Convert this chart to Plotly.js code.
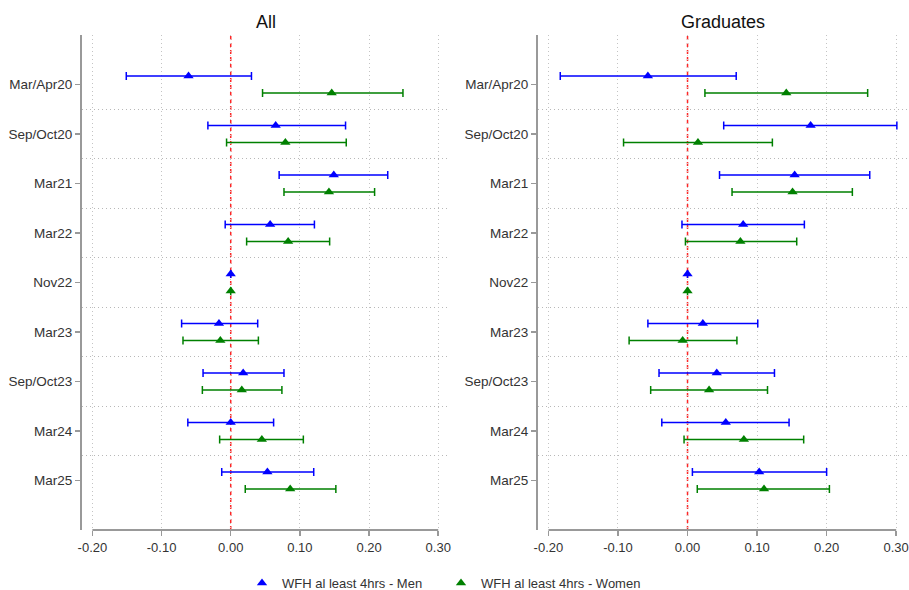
<!DOCTYPE html>
<html>
<head>
<meta charset="utf-8">
<script src="https://cdn.plot.ly/plotly-3.0.1.min.js"></script>
<style>html,body{margin:0;padding:0;background:#fff;}#chart{width:909px;height:590px;}</style>
</head>
<body>
<div id="chart"></div>
<script>
const categories = ['Mar/Apr20','Sep/Oct20','Mar21','Mar22','Nov22','Mar23','Sep/Oct23','Mar24','Mar25'];
const panelTitles = ['All', 'Graduates'];
const seriesNames = ['WFH al least 4hrs - Men', 'WFH al least 4hrs - Women'];
const xTickVals = [-0.2, -0.1, 0, 0.1, 0.2, 0.3];
const xTickText = ['-0.20', '-0.10', '0.00', '0.10', '0.20', '0.30'];

// All
const allMen     = [-0.061, 0.065, 0.149, 0.057, 0, -0.017, 0.018, 0.000, 0.053];
const allMenLo   = [-0.151, -0.033, 0.070, -0.008, null, -0.071, -0.040, -0.062, -0.013];
const allMenHi   = [0.030, 0.166, 0.227, 0.121, null, 0.039, 0.077, 0.062, 0.120];
const allWomen   = [0.146, 0.079, 0.142, 0.083, 0, -0.015, 0.016, 0.045, 0.086];
const allWomenLo = [0.046, -0.006, 0.077, 0.023, null, -0.069, -0.041, -0.016, 0.021];
const allWomenHi = [0.249, 0.167, 0.208, 0.143, null, 0.040, 0.074, 0.105, 0.152];
// Graduates
const gradMen     = [-0.057, 0.177, 0.154, 0.080, 0, 0.022, 0.042, 0.055, 0.103];
const gradMenLo   = [-0.183, 0.052, 0.046, -0.008, null, -0.057, -0.041, -0.037, 0.007];
const gradMenHi   = [0.070, 0.301, 0.262, 0.168, null, 0.101, 0.125, 0.146, 0.200];
const gradWomen   = [0.142, 0.015, 0.151, 0.076, 0, -0.007, 0.031, 0.081, 0.110];
const gradWomenLo = [0.025, -0.092, 0.064, -0.003, null, -0.084, -0.053, -0.005, 0.014];
const gradWomenHi = [0.259, 0.122, 0.237, 0.157, null, 0.071, 0.115, 0.167, 0.204];

const FONT = 'Liberation Sans, Arial, sans-serif';
const colors = ['#0000ff', '#008000'];
const offsets = [-0.17, 0.17];
const legendIds = ['legend', 'legend2'];

function mkTrace(pt, lo, hi, k, xa, ya, showLeg) {
  return {
    type: 'scatter', mode: 'markers',
    x: pt,
    y: categories.map((c, i) => i + 1 + offsets[k]),
    xaxis: xa, yaxis: ya,
    name: seriesNames[k], showlegend: showLeg, legend: legendIds[k],
    marker: {symbol: 'triangle-up', size: 9, color: colors[k]},
    error_x: {
      type: 'data', symmetric: false,
      array: pt.map((v, i) => hi[i] == null ? null : hi[i] - v),
      arrayminus: pt.map((v, i) => lo[i] == null ? null : v - lo[i]),
      color: colors[k], thickness: 1.5, width: 4
    },
    hoverinfo: 'x+name'
  };
}

const data = [
  mkTrace(allMen, allMenLo, allMenHi, 0, 'x', 'y', true),
  mkTrace(allWomen, allWomenLo, allWomenHi, 1, 'x', 'y', true),
  mkTrace(gradMen, gradMenLo, gradMenHi, 0, 'x2', 'y2', false),
  mkTrace(gradWomen, gradWomenLo, gradWomenHi, 1, 'x2', 'y2', false)
];

const H = 590, W = 909;
const yBot = 1 - 530 / H, yTop = 1 - 35 / H;
const sepVals = categories.slice(1).map((c, i) => i + 1.5);

function xAxis(domain, anchor) {
  return {
    domain: domain, anchor: anchor, range: [-0.215, 0.317],
    tickmode: 'array', tickvals: xTickVals, ticktext: xTickText,
    showgrid: true, gridcolor: '#c4c4c4', griddash: '1px,3px', gridwidth: 1,
    zeroline: false, showline: false,
    ticks: 'outside', ticklen: 5, tickwidth: 1.5, tickcolor: '#999',
    ticklabeloverflow: 'allow',
    tickfont: {family: FONT, size: 13, color: '#333'}
  };
}
function yAxis(anchor) {
  return {
    domain: [yBot, yTop], anchor: anchor, range: [10, 0],
    tickmode: 'array', tickvals: categories.map((c, i) => i + 1), ticktext: categories,
    showgrid: false, zeroline: false,
    showline: true, linecolor: '#999', linewidth: 2,
    ticks: 'outside', ticklen: 5, tickwidth: 1.5, tickcolor: '#999',
    tickfont: {family: FONT, size: 13.5, color: '#333'},
    minor: {tickmode: 'array', tickvals: sepVals, showgrid: true, gridcolor: '#b8b8b8', griddash: '1px,3px', gridwidth: 1, ticks: ''}
  };
}

const shapes = [];
['x', 'x2'].forEach(xr => {
  shapes.push({type: 'line', xref: xr, yref: 'paper', x0: xTickVals[0], x1: xTickVals[xTickVals.length - 1], y0: yBot, y1: yBot, line: {color: '#999', width: 2}});
  shapes.push({type: 'line', layer: 'between', xref: xr, yref: 'paper', x0: 0, x1: 0, y0: yBot, y1: yTop, line: {color: 'rgba(255,0,0,0.85)', width: 1.5, dash: '4px,3px'}});
});

function legendBox(xpx) {
  return {orientation: 'h', x: xpx / W, xanchor: 'left', y: 1 - 583 / H, yanchor: 'middle',
          font: {family: FONT, size: 13, color: '#333'}, bgcolor: 'rgba(0,0,0,0)'};
}

const layout = {
  width: W, height: H,
  margin: {l: 0, r: 0, t: 0, b: 0, autoexpand: false},
  paper_bgcolor: '#fff', plot_bgcolor: '#fff',
  font: {family: FONT, color: '#333'},
  xaxis: xAxis([82 / W, 450 / W], 'y'),
  yaxis: yAxis('x'),
  xaxis2: xAxis([538 / W, 908 / W], 'y2'),
  yaxis2: yAxis('x2'),
  shapes: shapes,
  showlegend: true,
  legend: legendBox(242),
  legend2: legendBox(441),
  annotations: [
    {text: panelTitles[0], xref: 'paper', yref: 'paper', x: 266 / W, y: 1 - 22 / H, xanchor: 'center', yanchor: 'middle', showarrow: false, font: {family: FONT, size: 18, color: '#111'}},
    {text: panelTitles[1], xref: 'paper', yref: 'paper', x: 723 / W, y: 1 - 22 / H, xanchor: 'center', yanchor: 'middle', showarrow: false, font: {family: FONT, size: 18, color: '#111'}}
  ]
};

Plotly.newPlot('chart', data, layout, {displayModeBar: false, staticPlot: true});
</script>
</body>
</html>
